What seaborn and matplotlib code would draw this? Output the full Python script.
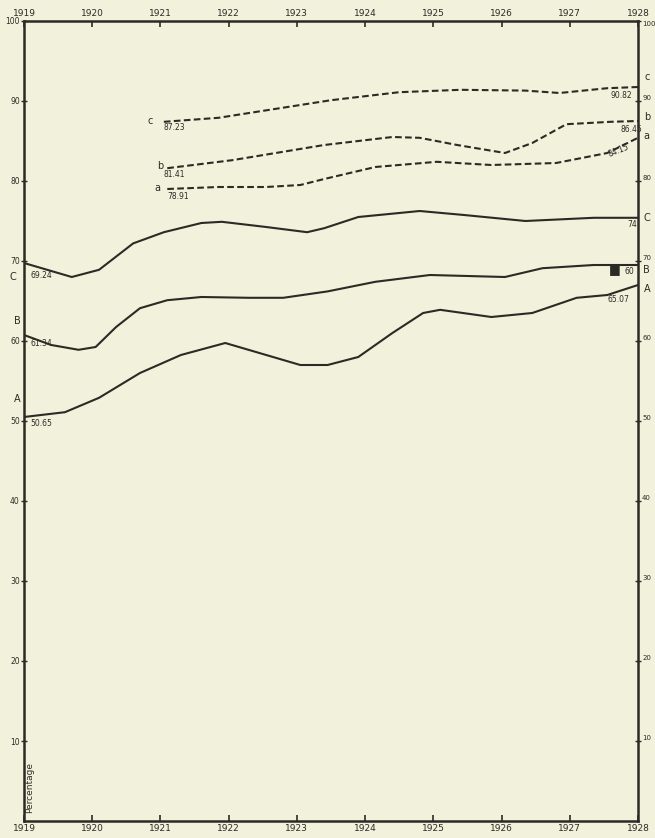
import matplotlib
matplotlib.use("Agg")
import pandas as pd
import matplotlib.pyplot as plt
import seaborn as sns

# values (year, percentage)
years_C = [1919.0, 1919.7, 1920.1, 1920.6, 1921.05, 1921.6, 1921.9, 1922.55, 1923.15, 1923.4, 1923.9, 1924.8, 1925.45, 1926.35, 1927.35, 1928.0]
vals_C = [69.75, 68.0, 68.9, 72.2, 73.6, 74.75, 74.9, 74.25, 73.6, 74.1, 75.5, 76.25, 75.75, 75.0, 75.4, 75.4]

years_B = [1919.0, 1919.4, 1919.8, 1920.05, 1920.35, 1920.7, 1921.1, 1921.6, 1922.3, 1922.8, 1923.45, 1924.15, 1924.95, 1926.05, 1926.6, 1927.35, 1928.0]
vals_B = [60.75, 59.5, 58.9, 59.25, 61.75, 64.1, 65.1, 65.5, 65.4, 65.4, 66.2, 67.4, 68.25, 68.0, 69.1, 69.5, 69.5]

years_A = [1919.0, 1919.6, 1920.1, 1920.7, 1921.3, 1921.95, 1922.55, 1923.05, 1923.45, 1923.9, 1924.4, 1924.85, 1925.1, 1925.85, 1926.45, 1927.1, 1927.55, 1928.0]
vals_A = [50.5, 51.1, 52.9, 56.0, 58.25, 59.75, 58.25, 57.0, 57.0, 58.0, 61.0, 63.5, 63.9, 63.0, 63.5, 65.4, 65.75, 67.0]

years_c = [1921.05, 1921.85, 1923.5, 1924.5, 1925.4, 1926.35, 1926.85, 1927.55, 1928.0]
vals_c = [87.4, 87.9, 90.1, 91.1, 91.4, 91.3, 91.0, 91.6, 91.75]

years_b = [1921.1, 1922.05, 1923.4, 1924.4, 1924.8, 1925.35, 1926.05, 1926.45, 1926.95, 1927.6, 1928.0]
vals_b = [81.6, 82.6, 84.5, 85.5, 85.4, 84.5, 83.5, 84.75, 87.1, 87.4, 87.5]

years_a = [1921.1, 1921.85, 1922.55, 1923.05, 1923.4, 1924.15, 1925.05, 1925.85, 1926.8, 1927.55, 1928.0]
vals_a = [79.0, 79.25, 79.25, 79.5, 80.25, 81.75, 82.4, 82.0, 82.25, 83.5, 85.4]

tick_years = list(range(1919, 1929))
pct_ticks = [10, 20, 30, 40, 50, 60, 70, 80, 90, 100]

series = {
    "A": (years_A, vals_A), "B": (years_B, vals_B), "C": (years_C, vals_C),
    "a": (years_a, vals_a), "b": (years_b, vals_b), "c": (years_c, vals_c),
}
rows = []
for name, (xs, ys) in series.items():
    for x, y in zip(xs, ys):
        rows.append({"year": x, "pct": y, "curve": name,
                     "kind": "solid" if name.isupper() else "dashed"})
df = pd.DataFrame(rows)

paper = "#f1f1dc"
ink = "#2b2b26"
sns.set_theme(style="white", rc={"axes.facecolor": paper, "figure.facecolor": paper})
plt.rcParams["font.family"] = ["DejaVu Sans"]

fig = plt.figure(figsize=(6.55, 8.38), dpi=100)
ax = fig.add_axes([24 / 655, 1 - 821 / 838, 614 / 655, 800 / 838])

sns.lineplot(data=df, x="year", y="pct", units="curve", estimator=None,
             style="kind", style_order=["solid", "dashed"],
             dashes={"solid": "", "dashed": (3.2, 1.6)},
             color=ink, linewidth=1.5, sort=False, legend=False, ax=ax)

ax.set_xlim(1919, 1928)
ax.set_ylim(0, 100)
ax.set_xlabel("")
ax.set_ylabel("")
ax.set_xticks(tick_years)
ax.set_xticklabels([str(y) for y in tick_years])
ax.set_yticks(pct_ticks)
ax.set_yticklabels([str(v) for v in pct_ticks])
ax.tick_params(axis="x", top=True, labeltop=True, bottom=True, labelbottom=True,
               direction="in", length=4, width=1.2, color=ink, labelsize=6.5,
               labelcolor=ink, pad=2)
ax.tick_params(axis="y", left=True, right=True, labelleft=True, labelright=True,
               direction="inout", length=5, width=1, color=ink, labelsize=5.5,
               labelcolor=ink, pad=0.5)
for v, tick in zip(pct_ticks, ax.yaxis.get_major_ticks()):
    tick.label2.set_fontsize(5)
    tick.label2.set_va("top" if v == 100 else "bottom")
for s in ax.spines.values():
    s.set_color(ink)
    s.set_linewidth(1.8)

fs = 7
# curve letters and start / end values
left_notes = [("C", 1918.83, 68.0), ("B", 1918.9, 62.5), ("A", 1918.9, 52.8)]
for t, x, y in left_notes:
    ax.text(x, y, t, fontsize=fs, color=ink, ha="center", va="center", clip_on=False)
ax.text(1919.1, 68.2, "69.24", fontsize=5.5, color=ink, va="center")
ax.text(1919.1, 59.7, "61.34", fontsize=5.5, color=ink, va="center")
ax.text(1919.1, 49.7, "50.65", fontsize=5.5, color=ink, va="center")

ax.text(1920.85, 87.5, "c", fontsize=fs, color=ink, ha="center", va="center")
ax.text(1921.05, 86.7, "87.23", fontsize=5.5, color=ink, va="center")
ax.text(1921.0, 81.9, "b", fontsize=fs, color=ink, ha="center", va="center")
ax.text(1921.05, 80.8, "81.41", fontsize=5.5, color=ink, va="center")
ax.text(1920.95, 79.1, "a", fontsize=fs, color=ink, ha="center", va="center")
ax.text(1921.1, 78.1, "78.91", fontsize=5.5, color=ink, va="center")

right_notes = [("c", 93.0), ("b", 88.0), ("a", 85.6), ("C", 75.4), ("B", 68.9), ("A", 66.5)]
for t, y in right_notes:
    ax.text(1928.13, y, t, fontsize=fs, color=ink, ha="center", va="center", clip_on=False)
ax.text(1927.6, 90.7, "90.82", fontsize=5.5, color=ink, va="center")
ax.text(1927.75, 86.5, "86.45", fontsize=5.5, color=ink, va="center")
ax.text(1927.55, 83.8, "84.15", fontsize=5.5, color=ink, va="center", rotation=22)
ax.text(1927.85, 74.6, "74", fontsize=5.5, color=ink, va="center")
ax.text(1927.66, 68.9, "■", fontsize=9, color=ink, ha="center", va="center")
ax.text(1927.8, 68.7, "60", fontsize=5.5, color=ink, va="center")
ax.text(1927.55, 65.2, "65.07", fontsize=5.5, color=ink, va="center")

ax.text(1919.08, 1.0, "Percentage", rotation=90, fontsize=6.5, color=ink,
        ha="center", va="bottom")

fig.savefig("out.png", dpi=100, facecolor=paper)
